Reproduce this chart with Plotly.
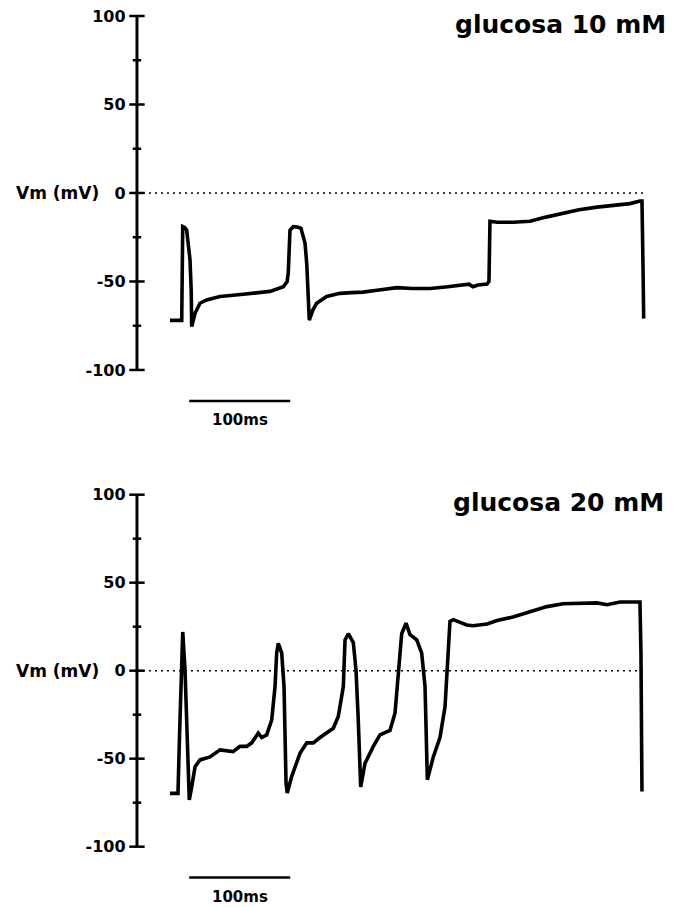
import plotly.graph_objects as go

# ---------------- data (time in ms, membrane potential in mV) ----------------
t10 = [0, 11.6, 12.6, 14.5, 16.5, 19.8, 21.0, 21.5, 24.8, 29.7,
       36.3, 49.5, 72.6, 99.0, 112.2, 116.0, 117.1, 118.8, 122.1, 126.0,
       129.7, 133.7, 135.4, 136.9, 137.9, 141.5, 145.2, 155.1, 168.3, 180,
       191.1, 205, 224.8, 240, 257.4, 275, 290.1, 296, 300, 305,
       313.9, 315.8, 316.8, 323.8, 340, 356.4, 373.3, 389.1, 405, 422.8,
       440, 455.4, 465.3, 467.3, 468.3, 469]
v10 = [-72, -72, -19, -19.5, -21, -37.8, -55, -75.5, -68, -62.3,
       -60.4, -58.5, -57.2, -55.6, -53, -50, -45, -21, -19, -19.2,
       -20, -28.4, -40, -68, -71.8, -66, -62.3, -58.5, -56.7, -56.3,
       -56, -55, -53.5, -54, -54, -53, -52, -51.5, -53, -52,
       -51.5, -50, -16, -16.5, -16.5, -16, -13.5, -11.5, -9.5, -8,
       -7, -6, -4.5, -4.5, -40, -71]

t20 = [0, 7.9, 9.4, 11.6, 12.6, 14.9, 16.5, 19.1, 21.5, 24.8,
       29.7, 39.6, 49.5, 62.4, 69.3, 75.9, 80.9, 87.4, 90.8, 95.7,
       100.7, 104, 105.6, 107.2, 110.6, 112.9, 114.9, 116.1, 120.5, 128.7,
       135.4, 141.9, 148.5, 161.7, 166.6, 171.6, 173.3, 176.5, 181.5, 184.2,
       186.4, 188.1, 188.8, 193.1, 201.3, 207.9, 217.8, 222.8, 226, 229.4,
       233.7, 237.6, 244.3, 249.2, 252.5, 254.2, 254.8, 260.7, 267.3, 272.3,
       275.5, 277.2, 280.5, 293.8, 300, 313.9, 323.8, 339.6, 356.4, 373.3,
       389.1, 405.9, 422.8, 432.7, 445.5, 465.3, 466.3, 467.3]
v20 = [-69.7, -69.7, -37.5, -5, 22, 0, -28, -73.5, -66, -54.5,
       -50.7, -49, -45, -46, -43, -43, -41, -35.5, -38, -36.5,
       -28, -9, 10, 15.5, 10, -9, -64, -69.5, -60, -47,
       -41, -41, -38, -32.7, -26, -9, 17.5, 21, 16, 0,
       -28, -66, -66, -52.6, -43, -36.5, -34, -24, 0, 21,
       27, 20.5, 17.5, 10, -9, -62, -62, -49, -38, -20.5,
       10, 28, 29, 26, 25.5, 26.5, 28.5, 30.5, 33.5, 36.4,
       38, 38, 38.5, 37.5, 39, 39, 10, -68.7]

panel_titles = ["glucosa 10 mM", "glucosa 20 mM"]
major_ticks = [-100, -50, 0, 50, 100]
major_labels = ["-100", "-50", "0", "50", "100"]
minor_ticks = [-75, -25, 25, 75]
ylabel = "Vm (mV)"
scalebar_label = "100ms"
scalebar_start = 19
scalebar_len = 100
zero_line_end = 470

# ---------------- layout constants ----------------
W, H = 674, 907
AXIS_T = -32.7            # time where the vertical axis is drawn
XR = [-40, 495]
YR = [-132, 108]
BAR_Y = -117.5
BAR_TXT_Y = -128.5

fig = go.Figure()
series = [(t10, v10), (t20, v20)]
axes = [("x", "y"), ("x2", "y2")]
BOLD = dict(family="DejaVu Sans", weight="bold", color="black")

for (tt, vv), (xa, ya), title in zip(series, axes, panel_titles):
    # zero reference (dotted)
    fig.add_trace(go.Scatter(x=[AXIS_T, zero_line_end], y=[0, 0], xaxis=xa, yaxis=ya,
                             mode="lines", line=dict(color="black", width=1.5, dash="2px,4px"),
                             hoverinfo="skip", showlegend=False))
    # vertical axis line
    fig.add_trace(go.Scatter(x=[AXIS_T, AXIS_T], y=[major_ticks[0], major_ticks[-1]],
                             xaxis=xa, yaxis=ya, mode="lines",
                             line=dict(color="black", width=3),
                             hoverinfo="skip", showlegend=False))
    # major tick marks (crossing the axis)
    fig.add_trace(go.Scatter(x=[AXIS_T] * len(major_ticks), y=major_ticks, xaxis=xa, yaxis=ya,
                             mode="markers", cliponaxis=False,
                             marker=dict(symbol="line-ew", size=11, color="black",
                                         line=dict(color="black", width=2.5)),
                             hoverinfo="skip", showlegend=False))
    # minor tick marks
    fig.add_trace(go.Scatter(x=[AXIS_T] * len(minor_ticks), y=minor_ticks, xaxis=xa, yaxis=ya,
                             mode="markers", cliponaxis=False,
                             marker=dict(symbol="line-ew", size=6, color="black",
                                         line=dict(color="black", width=2.5)),
                             hoverinfo="skip", showlegend=False))
    # recording
    fig.add_trace(go.Scatter(x=tt, y=vv, xaxis=xa, yaxis=ya, mode="lines",
                             line=dict(color="black", width=3.6),
                             hoverinfo="skip", showlegend=False))
    # 100 ms scale bar
    fig.add_trace(go.Scatter(x=[scalebar_start, scalebar_start + scalebar_len], y=[BAR_Y, BAR_Y],
                             xaxis=xa, yaxis=ya, mode="lines",
                             line=dict(color="black", width=2.4),
                             hoverinfo="skip", showlegend=False))
    fig.add_annotation(x=scalebar_start + scalebar_len / 2, y=BAR_TXT_Y, xref=xa, yref=ya,
                       text=scalebar_label, showarrow=False,
                       font=dict(size=15, **BOLD), xanchor="center", yanchor="middle")
    # y label next to the 0 tick
    fig.add_annotation(x=0, y=0, xref=xa, yref=ya, text=ylabel, showarrow=False,
                       font=dict(size=17, **BOLD), xanchor="right", yanchor="middle",
                       xshift=-(170 - 101))

# panel titles
fig.add_annotation(x=668 / W, y=1 - 24 / H, xref="paper", yref="paper", text=panel_titles[0],
                   showarrow=False, font=dict(size=25, **BOLD), xanchor="right", yanchor="middle")
fig.add_annotation(x=666 / W, y=1 - 502 / H, xref="paper", yref="paper", text=panel_titles[1],
                   showarrow=False, font=dict(size=25, **BOLD), xanchor="right", yanchor="middle")

xdom = [(170 + XR[0] * 1.01) / W, (170 + XR[1] * 1.01) / W]
common_x = dict(range=XR, domain=xdom, visible=False, fixedrange=True)
common_y = dict(range=YR, tickmode="array", tickvals=major_ticks, ticktext=major_labels,
                ticks="", showline=False, showgrid=False, zeroline=False,
                tickfont=dict(size=16, **BOLD), ticklabelstandoff=3, automargin=False)

fig.update_layout(
    width=W, height=H,
    margin=dict(l=0, r=0, t=0, b=0),
    paper_bgcolor="white", plot_bgcolor="white",
    xaxis=dict(anchor="y", **common_x),
    xaxis2=dict(anchor="y2", **common_x),
    yaxis=dict(anchor="x", domain=[1 - 426.6 / H, 1 - 1.84 / H], **common_y),
    yaxis2=dict(anchor="x2", domain=[1 - 903 / H, 1 - 480.6 / H], **common_y),
)

fig.write_html("out.html")
